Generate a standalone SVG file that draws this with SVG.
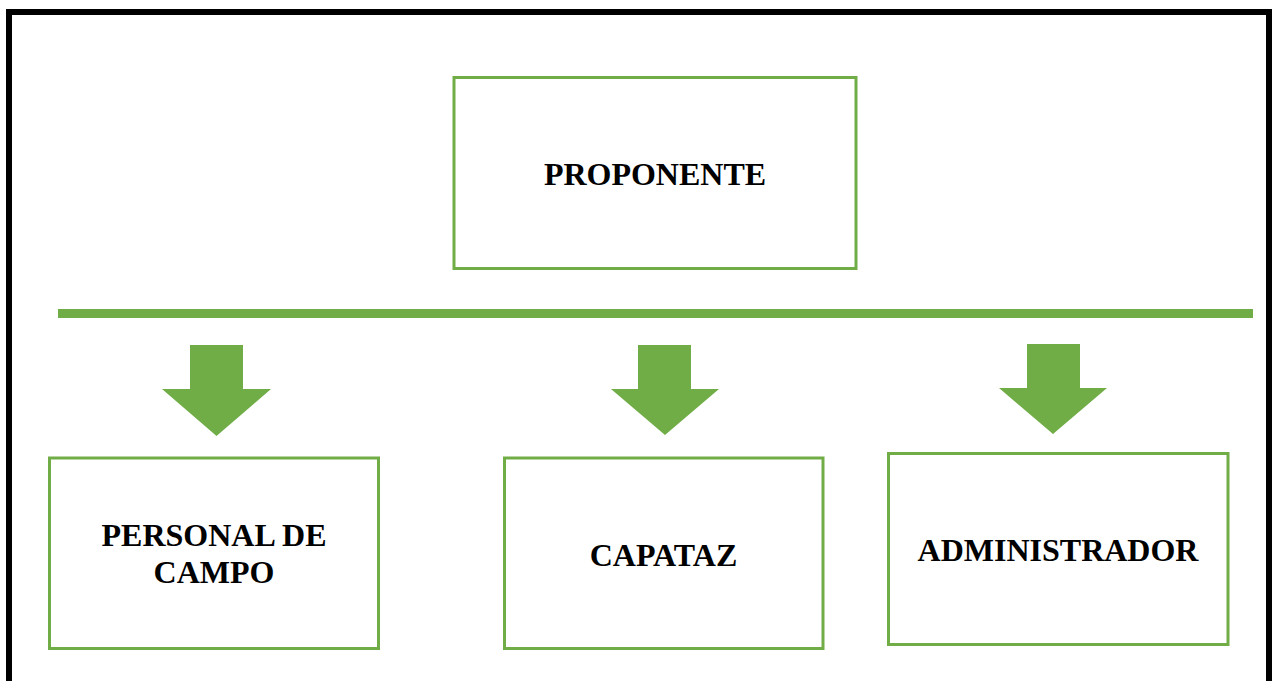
<svg xmlns="http://www.w3.org/2000/svg" width="1272" height="681" viewBox="0 0 1272 681">
<style>
.box{fill:#ffffff;stroke:#70AD47;stroke-width:3}
.lbl{font-family:"Liberation Serif","Times New Roman",serif;font-weight:bold;font-size:32px;fill:#000000;text-anchor:middle}
.arr{fill:#70AD47}
</style>
<rect x="0" y="0" width="1272" height="681" fill="#ffffff"/>
<rect x="9" y="12" width="1260" height="700" fill="none" stroke="#000000" stroke-width="6"/>
<g id="proponente">
<rect class="box" x="454" y="77.5" width="402" height="191"/>
<text class="lbl" x="655" y="185">PROPONENTE</text>
</g>
<g id="personal">
<rect class="box" x="49.5" y="458" width="329" height="190.5"/>
<text class="lbl" x="214" y="545.5">PERSONAL DE</text>
<text class="lbl" x="214" y="583">CAMPO</text>
</g>
<g id="capataz">
<rect class="box" x="504.5" y="458" width="318.5" height="190.5"/>
<text class="lbl" x="663.5" y="566">CAPATAZ</text>
</g>
<g id="administrador">
<rect class="box" x="888.5" y="453.5" width="339.5" height="191"/>
<text class="lbl" x="1058" y="560.5">ADMINISTRADOR</text>
</g>
<g id="connectors">
<rect class="arr" x="58" y="309" width="1195" height="9"/>
<polygon class="arr" points="190,345 243,345 243,389 271,389 216.5,436 162,389 190,389"/>
<polygon class="arr" points="638,345 691,345 691,389 719,389 665,435 611,389 638,389"/>
<polygon class="arr" points="1027,344 1080,344 1080,388 1107,388 1053,434 999,388 1027,388"/>
</g>
</svg>
